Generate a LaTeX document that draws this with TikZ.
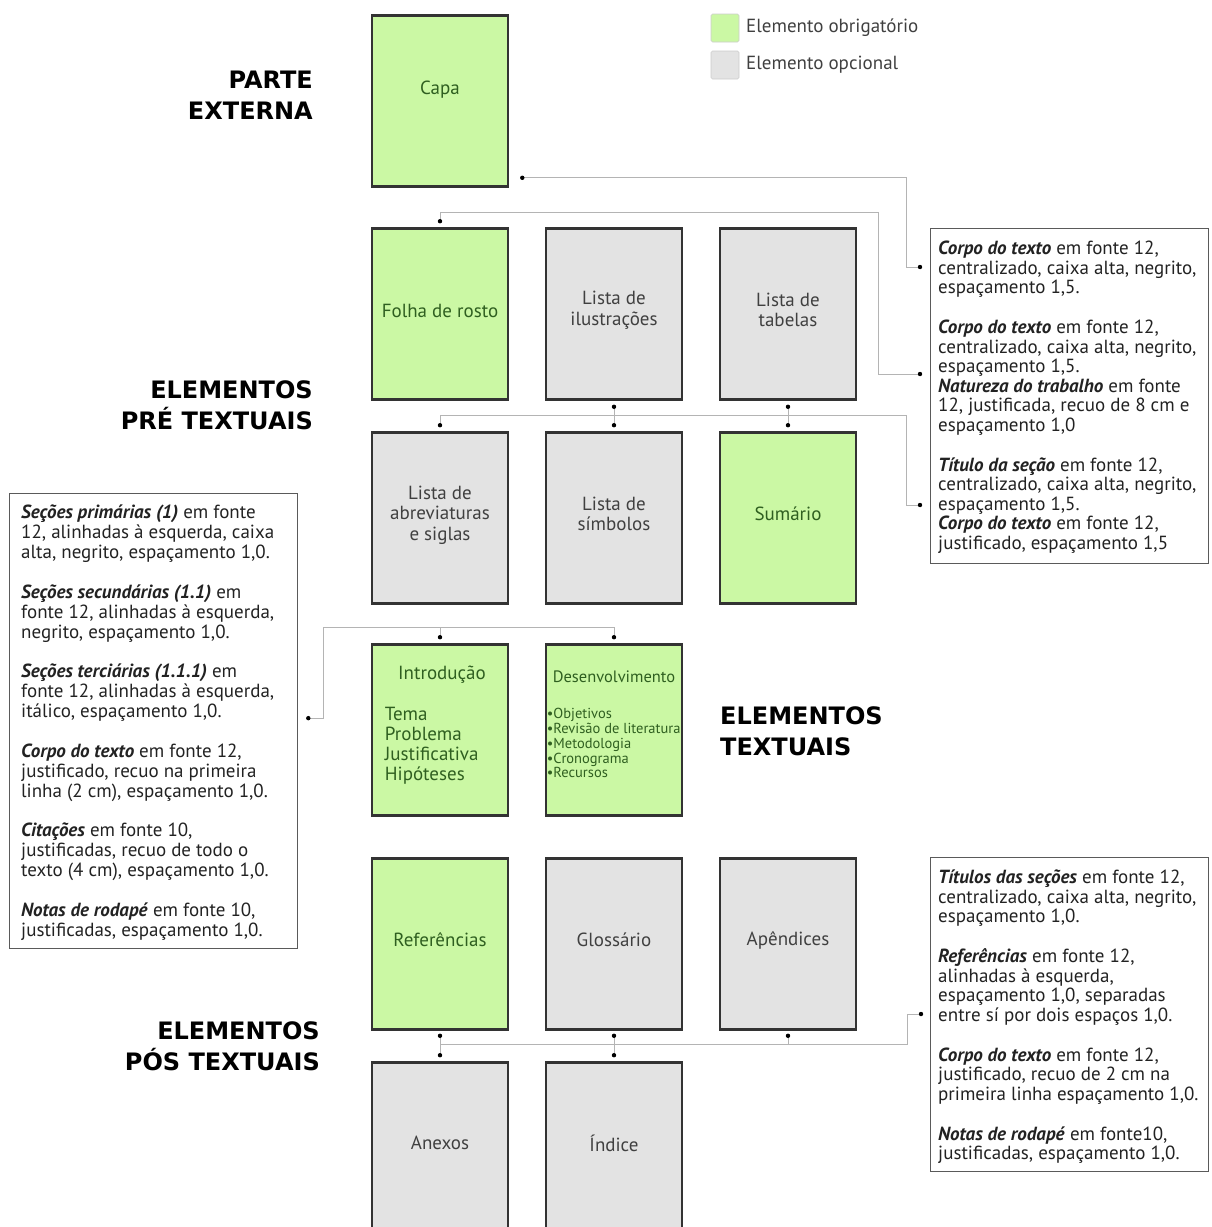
\documentclass[tikz,border=0pt]{standalone}
\usepackage{fontspec}
\setmainfont{PT Sans}
\newfontfamily\headfont{DejaVu Sans}
\usetikzlibrary{calc}
\definecolor{reqfill}{HTML}{CBF8A4}
\definecolor{optfill}{HTML}{E3E3E3}
\definecolor{reqtext}{HTML}{2F5F20}
\definecolor{opttext}{HTML}{404040}
\definecolor{boxline}{HTML}{333333}
\definecolor{wire}{HTML}{B4B4B4}
\definecolor{notebd}{HTML}{5A5A5A}
\definecolor{notetxt}{HTML}{222222}
\begin{document}
\begin{tikzpicture}[x=1pt,y=-1pt,
  page/.style={draw=boxline, line width=2.6pt, minimum width=136pt, minimum height=171pt, inner sep=0pt},
  req/.style={page, fill=reqfill},
  opt/.style={page, fill=optfill},
  reqtxt/.style={align=center, inner sep=0pt, text=reqtext, font=\fontsize{19}{20.5}\selectfont},
  opttxt/.style={align=center, inner sep=0pt, text=opttext, font=\fontsize{19}{20.5}\selectfont},
  head/.style={inner sep=0pt, font=\headfont\bfseries\fontsize{24}{31}\selectfont},
  notebox/.style={draw=notebd, line width=1.3pt, inner sep=0pt, anchor=north west},
  notetext/.style={inner sep=0pt, anchor=north west, align=left, text=notetxt},
  legsq/.style={draw=black!20, line width=0.6pt, rounded corners=1.5pt, minimum size=28pt, inner sep=0pt},
  wireline/.style={draw=wire, line width=1pt},
  dotfill/.style={fill=black}
]
\useasboundingbox (0,0) rectangle (1211,1227);
\clip (0,0) rectangle (1211,1227);

% legend
\node[legsq, fill=reqfill] (legreq) at (725,28) {};
\node[anchor=west, inner sep=0pt, text=opttext, font=\fontsize{19}{20}\selectfont] (legreqT) at (746,28) {Elemento obrigatório};
\node[legsq, fill=optfill] (legopt) at (725,65) {};
\node[anchor=west, inner sep=0pt, text=opttext, font=\fontsize{19}{20}\selectfont] (legoptT) at (746,65) {Elemento opcional};

% headings
\node[head, anchor=north east, align=right] (hExt) at (313,71) {PARTE\\EXTERNA};
\node[head, anchor=north east, align=right] (hPre) at (313,380) {ELEMENTOS\\PRÉ TEXTUAIS};
\node[head, anchor=north west, align=left] (hTxt) at (720,706) {ELEMENTOS\\TEXTUAIS};
\node[head, anchor=north east, align=right] (hPos) at (320,1021) {ELEMENTOS\\PÓS TEXTUAIS};

% boxes
\node[req] (capa) at (440,101) {};
\node[reqtxt] (capaT) at ($(capa)+(0,-11)$) {Capa};

\node[req] (folha) at (440,314) {};
\node[reqtxt] (folhaT) at ($(folha)+(0,-3)$) {Folha de rosto};
\node[opt] (ilus) at (614,314) {};
\node[opttxt] (ilusT) at ($(ilus)+(0,-4)$) {Lista de\\ilustrações};
\node[opt] (tab) at (788,314) {};
\node[opttxt] (tabT) at ($(tab)+(0,-4)$) {Lista de\\tabelas};

\node[opt] (abrev) at (440,518) {};
\node[opttxt] (abrevT) at ($(abrev)+(0,-3)$) {Lista de\\abreviaturas\\e siglas};
\node[opt] (simb) at (614,518) {};
\node[opttxt] (simbT) at ($(simb)+(0,-4)$) {Lista de\\símbolos};
\node[req] (sum) at (788,518) {};
\node[reqtxt] (sumT) at ($(sum)+(0,-4)$) {Sumário};

\node[req] (intro) at (440,730) {};
\node[reqtxt] (introT) at ($(intro.north)+(2,31)$) {Introdução};
\node[reqtxt, anchor=north west, align=left, font=\fontsize{19}{19.8}\selectfont] (introL) at ($(intro.north west)+(14,64)$) {Tema\\Problema\\Justificativa\\Hipóteses};
\node[req] (desenv) at (614,730) {};
\node[reqtxt, font=\fontsize{16.5}{18}\selectfont] (desenvT) at ($(desenv.north)+(0,34)$) {Desenvolvimento};
\node[reqtxt, anchor=north west, align=left, font=\fontsize{14.5}{14.8}\selectfont] (desenvL) at ($(desenv.north west)+(2,65)$) {•Objetivos\\•Revisão de literatura\\•Metodologia\\•Cronograma\\•Recursos};

\node[req] (ref) at (440,944) {};
\node[reqtxt] (refT) at ($(ref)+(0,-4)$) {Referências};
\node[opt] (glos) at (614,944) {};
\node[opttxt] (glosT) at ($(glos)+(0,-4)$) {Glossário};
\node[opt] (apend) at (788,944) {};
\node[opttxt] (apendT) at ($(apend)+(0,-4)$) {Apêndices};

\node[opt] (anex) at (440,1148) {};
\node[opttxt] (anexT) at ($(anex)+(0,-5)$) {Anexos};
\node[opt] (indice) at (614,1148) {};
\node[opttxt] (indiceT) at ($(indice)+(0,-5)$) {Índice};

% note boxes
\node[notebox, minimum width=278pt, minimum height=335pt] (tbA) at (930,228) {};
\node[notetext, font=\fontsize{19}{19.5}\selectfont] (tbAt) at ($(tbA.north west)+(8,13)$) {%
\textbf{\textit{Corpo do texto}} em fonte 12,\\
centralizado, caixa alta, negrito,\\
espaçamento 1,5.\\[20.5pt]
\textbf{\textit{Corpo do texto}} em fonte 12,\\
centralizado, caixa alta, negrito,\\
espaçamento 1,5.\\
\textbf{\textit{Natureza do trabalho}} em fonte\\
12, justificada, recuo de 8 cm e\\
espaçamento 1,0\\[20.5pt]
\textbf{\textit{Título da seção}} em fonte 12,\\
centralizado, caixa alta, negrito,\\
espaçamento 1,5.\\
\textbf{\textit{Corpo do texto}} em fonte 12,\\
justificado, espaçamento 1,5};

\node[notebox, minimum width=288pt, minimum height=455pt] (tbL) at (9,493) {};
\node[notetext, font=\fontsize{19}{20}\selectfont] (tbLt) at ($(tbL.north west)+(12,12)$) {%
\textbf{\textit{Seções primárias (1)}} em fonte\\
12, alinhadas à esquerda, caixa\\
alta, negrito, espaçamento 1,0.\\[19.5pt]
\textbf{\textit{Seções secundárias (1.1)}} em\\
fonte 12, alinhadas à esquerda,\\
negrito, espaçamento 1,0.\\[19.5pt]
\textbf{\textit{Seções terciárias (1.1.1)}} em\\
fonte 12, alinhadas à esquerda,\\
itálico, espaçamento 1,0.\\[19.5pt]
\textbf{\textit{Corpo do texto}} em fonte 12,\\
justificado, recuo na primeira\\
linha (2 cm), espaçamento 1,0.\\[19.5pt]
\textbf{\textit{Citações}} em fonte 10,\\
justificadas, recuo de todo o\\
texto (4 cm), espaçamento 1,0.\\[19.5pt]
\textbf{\textit{Notas de rodapé}} em fonte 10,\\
justificadas, espaçamento 1,0.};

\node[notebox, minimum width=278pt, minimum height=314pt] (tbB) at (930,857) {};
\node[notetext, font=\fontsize{19}{19.5}\selectfont] (tbBt) at ($(tbB.north west)+(8,13)$) {%
\textbf{\textit{Títulos das seções}} em fonte 12,\\
centralizado, caixa alta, negrito,\\
espaçamento 1,0.\\[20.5pt]
\textbf{\textit{Referências}} em fonte 12,\\
alinhadas à esquerda,\\
espaçamento 1,0, separadas\\
entre sí por dois espaços 1,0.\\[20.5pt]
\textbf{\textit{Corpo do texto}} em fonte 12,\\
justificado, recuo de 2 cm na\\
primeira linha espaçamento 1,0.\\[20.5pt]
\textbf{\textit{Notas de rodapé}} em fonte10,\\
justificadas, espaçamento 1,0.};

% connector end points
\coordinate (d1) at ($(capa.south east)+(13,-10)$);
\coordinate (a1) at ($(tbA.north west)+(-10,39)$);
\coordinate (d2) at ($(folha.north)+(0,-6)$);
\coordinate (a2) at ($(tbA.north west)+(-10,146)$);
\coordinate (dIl) at ($(ilus.south)+(0,6)$);
\coordinate (dTa) at ($(tab.south)+(0,6)$);
\coordinate (dAb) at ($(abrev.north)+(0,-6)$);
\coordinate (dSi) at ($(simb.north)+(0,-6)$);
\coordinate (dSu) at ($(sum.north)+(0,-6)$);
\coordinate (a3) at ($(tbA.north west)+(-10,277)$);
\coordinate (l1) at ($(tbL.east)+(10,-3)$);
\coordinate (dIn) at ($(intro.north)+(0,-6)$);
\coordinate (dDe) at ($(desenv.north)+(0,-6)$);
\coordinate (dRe) at ($(ref.south)+(0,5)$);
\coordinate (dGl) at ($(glos.south)+(0,5)$);
\coordinate (dAp) at ($(apend.south)+(0,5)$);
\coordinate (dAn) at ($(anex.north)+(0,-6)$);
\coordinate (dIx) at ($(indice.north)+(0,-6)$);
\coordinate (b1) at ($(tbB.north west)+(-9,157)$);

% connectors
\draw[wireline] (d1) -| ($(a1)+(-14,0)$) -- (a1);
\draw[wireline] (d2) -- ++(0,-9) -| ($(a2)+(-42,0)$) -- (a2);
\draw[wireline] (dAb) -- ++(0,-10) -| ($(a3)+(-14,0)$) -- (a3);
\draw[wireline] (dIl) -- (dSi);
\draw[wireline] (dTa) -- (dSu);
\draw[wireline] (l1) -- ++(15,0) |- ($(dDe)+(0,-10)$) -- (dDe);
\draw[wireline] (dIn) -- ++(0,-10);
\draw[wireline] (dRe) -- (dAn);
\draw[wireline] (dGl) -- (dIx);
\draw[wireline] (dAp) -- ++(0,9);
\draw[wireline] ($(dRe)+(0,9)$) -| ($(b1)+(-14,0)$) -- (b1);

% dots
\foreach \p in {d1,a1,d2,a2,dIl,dTa,dAb,dSi,dSu,a3,l1,dIn,dDe,dRe,dGl,dAp,dAn,dIx,b1}
  \fill[dotfill] (\p) circle (2.2pt);
\end{tikzpicture}
\end{document}
